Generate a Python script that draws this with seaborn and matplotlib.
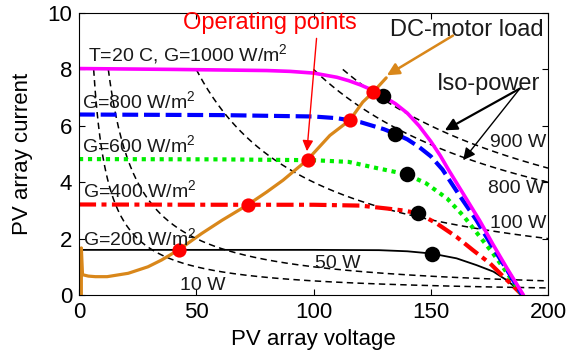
import numpy as np
import matplotlib
matplotlib.use("Agg")
import matplotlib.pyplot as plt
import seaborn as sns

# PV array I-V curves (T = 20 C) for the five irradiance levels, V in volts, I in amps
v_g200 = [0, 60, 100, 128, 140, 150.4, 161, 169.5, 176.7, 182.3, 186.6, 189]
i_g200 = [1.6, 1.6, 1.6, 1.59, 1.55, 1.47, 1.3, 1.06, 0.83, 0.53, 0.24, 0.0]

v_g400 = [0, 60, 100, 120, 131, 138, 144.6, 152.5, 161, 168, 175.3, 181, 189]
i_g400 = [3.21, 3.2, 3.2, 3.17, 3.07, 3.0, 2.9, 2.54, 2.06, 1.59, 1.12, 0.65, 0.0]

v_g600 = [0, 60, 100, 115, 127, 139.7, 148, 157, 164, 171, 176.5, 181.7, 189]
i_g600 = [4.82, 4.81, 4.78, 4.72, 4.5, 4.28, 3.96, 3.42, 2.8, 2.06, 1.48, 0.88, 0.0]

v_g800 = [0, 60, 100, 110, 120, 130, 134.8, 140, 145, 150, 155, 162.5, 169.5, 175.3, 181.7, 189]
i_g800 = [6.4, 6.38, 6.33, 6.27, 6.13, 5.88, 5.72, 5.52, 5.25, 4.92, 4.45, 3.5, 2.65, 1.84, 1.0, 0.0]

v_g1000 = [0, 40, 80, 90, 100, 110, 115, 120, 125, 129.6, 135, 140, 145, 150, 154, 157.5,
           164, 171, 176.5, 182.5, 189.5]
i_g1000 = [8.03, 8.0, 7.96, 7.93, 7.87, 7.72, 7.6, 7.45, 7.27, 7.05, 6.78, 6.45, 6.0, 5.45,
           4.95, 4.45, 3.57, 2.62, 1.8, 0.95, 0.0]

# DC-motor load line (start-up jump, then the running characteristic)
v_motor = [1, 1, 1.5, 4, 7, 12, 21, 29.4, 35.2, 42.5, 52.3, 61, 72, 80, 87, 97.5, 107, 115.5, 121, 125.5, 131]
i_motor = [0.0, 1.67, 0.72, 0.67, 0.65, 0.65, 0.77, 1.0, 1.24, 1.6, 2.18, 2.65, 3.2, 3.65, 4.07, 4.8, 5.66, 6.2, 6.84, 7.2, 7.7]

# Operating points (load line meets I-V curve) and maximum power points
v_oper = [42.5, 72, 97.5, 115.5, 125.5]
i_oper = [1.6, 3.2, 4.8, 6.2, 7.2]
v_mpp = [150.4, 144.6, 139.7, 134.8, 129.6]
i_mpp = [1.47, 2.9, 4.28, 5.72, 7.05]

# Constant-power hyperbolas (W) and the texts printed beside them
iso_power_w = [50, 100, 400, 800, 900]
iso_labels = ["10 W", "50 W", "100 W", "800 W", "900 W"]
iso_label_xy = [(43, 0.18), (100.6, 0.94), (175.3, 2.36), (174.4, 3.6), (175.3, 5.25)]

curve_labels = ["G=200 W/m$^2$", "G=400 W/m$^2$", "G=600 W/m$^2$", "G=800 W/m$^2$",
                "T=20 C, G=1000 W/m$^2$"]
curve_label_xy = [(1.7, 1.77), (1.7, 3.48), (1.2, 5.06), (1.2, 6.62), (3.8, 8.32)]

x_ticks = [0, 50, 100, 150, 200]
y_ticks = [0, 2, 4, 6, 8, 10]

sns.set_theme(style="ticks")
plt.rcParams["font.family"] = ["Liberation Sans", "DejaVu Sans"]
plt.rcParams["mathtext.fontset"] = "custom"
plt.rcParams["mathtext.rm"] = "Liberation Sans"
plt.rcParams["mathtext.it"] = "Liberation Sans:italic"
plt.rcParams["mathtext.default"] = "regular"

fig, ax = plt.subplots(figsize=(5.82, 3.58), dpi=100)
fig.subplots_adjust(left=79 / 582, right=548 / 582, bottom=1 - 295 / 358, top=1 - 13 / 358)

ink = "#1a1a1a"
orange = "#D9871A"

def line(x, y, **kw):
    sns.lineplot(x=np.asarray(x, float), y=np.asarray(y, float), ax=ax,
                 estimator=None, sort=False, legend=False, **kw)

# iso-power curves, drawn from I = 8 A down to 200 V
for p in iso_power_w:
    v = np.linspace(p / 8.0, 200, 300)
    line(v, p / v, color="black", linewidth=1.1, linestyle=(0, (4.2, 2.8)))

line(v_g200, i_g200, color="black", linewidth=1.3)
line(v_g400, i_g400, color="#FF0000", linewidth=3.0, linestyle=(0, (4.1, 1.3, 1.2, 1.3)))
line(v_g600, i_g600, color="#00EE00", linewidth=3.0, linestyle=(0, (1.0, 1.15)))
line(v_g800, i_g800, color="#0000FF", linewidth=3.0, linestyle=(0, (3.8, 1.4)))
line(v_g1000, i_g1000, color="#FF00FF", linewidth=2.6)
line(v_motor, i_motor, color=orange, linewidth=2.3)

sns.scatterplot(x=v_mpp, y=i_mpp, ax=ax, color="black", s=125, linewidth=0, zorder=5, legend=False)
sns.scatterplot(x=v_oper, y=i_oper, ax=ax, color="#FF0000", s=105, linewidth=0, zorder=6, legend=False)

for txt, (x, y) in zip(curve_labels, curve_label_xy):
    ax.text(x, y, txt, fontsize=14, color=ink, ha="left", va="baseline", zorder=7)
for txt, (x, y) in zip(iso_labels, iso_label_xy):
    ax.text(x, y, txt, fontsize=14, color=ink, ha="left", va="baseline", zorder=7, clip_on=False)

ax.text(44.3, 9.42, "Operating points", fontsize=17, color="#FF0000", ha="left", va="baseline")
ax.text(132.6, 9.2, "DC-motor load", fontsize=17, color=ink, ha="left", va="baseline")
ax.text(152.7, 7.26, "Iso-power", fontsize=17, color=ink, ha="left", va="baseline")

ax.annotate("", xy=(97.2, 5.1), xytext=(101.3, 9.1),
            arrowprops=dict(arrowstyle="-|>", color="#FF0000", lw=1.0, mutation_scale=16,
                            shrinkA=0, shrinkB=0))
ax.annotate("", xy=(131.3, 7.79), xytext=(159.5, 9.2),
            arrowprops=dict(arrowstyle="-|>", color=orange, lw=1.8, mutation_scale=18,
                            shrinkA=0, shrinkB=0))
ax.annotate("", xy=(156, 5.84), xytext=(188, 7.32),
            arrowprops=dict(arrowstyle="-|>", color="black", lw=1.6, mutation_scale=18,
                            shrinkA=0, shrinkB=0))
ax.annotate("", xy=(163.8, 4.78), xytext=(188, 7.32),
            arrowprops=dict(arrowstyle="-|>", color="black", lw=1.0, mutation_scale=18,
                            shrinkA=0, shrinkB=0))

ax.set_xlim(0, 200)
ax.set_ylim(0, 10)
ax.set_xticks(x_ticks)
ax.set_yticks(y_ticks)
ax.tick_params(direction="in", top=True, right=True, length=4, width=0.8,
               labelsize=16, colors="black", pad=5)
for s in ax.spines.values():
    s.set_visible(True)
    s.set_linewidth(0.8)
    s.set_color("black")

ax.set_xlabel("PV array voltage", fontsize=16, color="black")
ax.set_ylabel("PV array current", fontsize=16, color="black")
ax.xaxis.set_label_coords(0.5, -0.12)
ax.yaxis.set_label_coords(-0.098, 0.5)

fig.savefig("out.png", dpi=100, facecolor="white")
